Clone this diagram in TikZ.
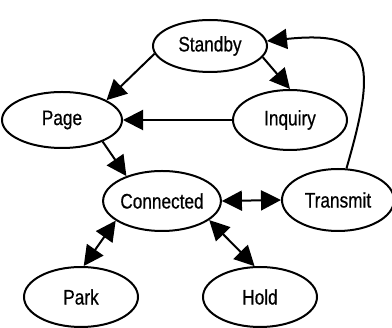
\documentclass[tikz,border=0pt]{standalone}
\usepackage{fontspec}
\setmainfont{Liberation Sans}
\newfontfamily\statefont[FakeStretch=0.82,FakeBold=0.6]{Liberation Sans}
\usetikzlibrary{shapes.geometric,arrows.meta}

\begin{document}
\begin{tikzpicture}[x=1pt,y=-1pt,
  state/.style={ellipse,draw,line width=2pt,inner sep=0pt,
    minimum width=114pt,minimum height=58pt,
    font=\statefont\fontsize{21}{24}\selectfont},
  link/.style={line width=2pt,-{Triangle[length=20pt,width=20pt]}},
  duplex/.style={line width=2pt,{Triangle[length=20pt,width=20pt]}-{Triangle[length=20pt,width=20pt]}}]
\useasboundingbox (0,0) rectangle (392,328);

% states
\node[state,minimum height=52pt] (standby)   at (210,46)  {Standby};
\node[state,minimum width=120pt,minimum height=56pt] (page) at (62,120) {Page};
\node[state,minimum height=60pt] (inquiry)   at (290,120) {Inquiry};
\node[state,minimum height=60pt] (connected) at (162,201) {Connected};
\node[state,minimum width=112pt,minimum height=62pt] (transmit) at (338,200) {Transmit};
\node[state,minimum height=60pt] (park)      at (81,297)  {Park};
\node[state,minimum height=60pt] (hold)      at (260,297) {Hold};

% transitions
\draw[link] (standby.188) -- (page.24);
\draw[link] (standby.-12) -- (inquiry.north);
\draw[link] (inquiry.west) -- (page.east);
\draw[link] (page.-28) -- (connected.145);
\draw[duplex] (connected.east) -- (transmit.west);
\draw[duplex] (connected.203) -- (park.85);
\draw[duplex] (connected.-22) -- (hold.100);
\draw[link] (transmit.75) .. controls (378,60) and (372,30) .. (standby.5);
\end{tikzpicture}
\end{document}
